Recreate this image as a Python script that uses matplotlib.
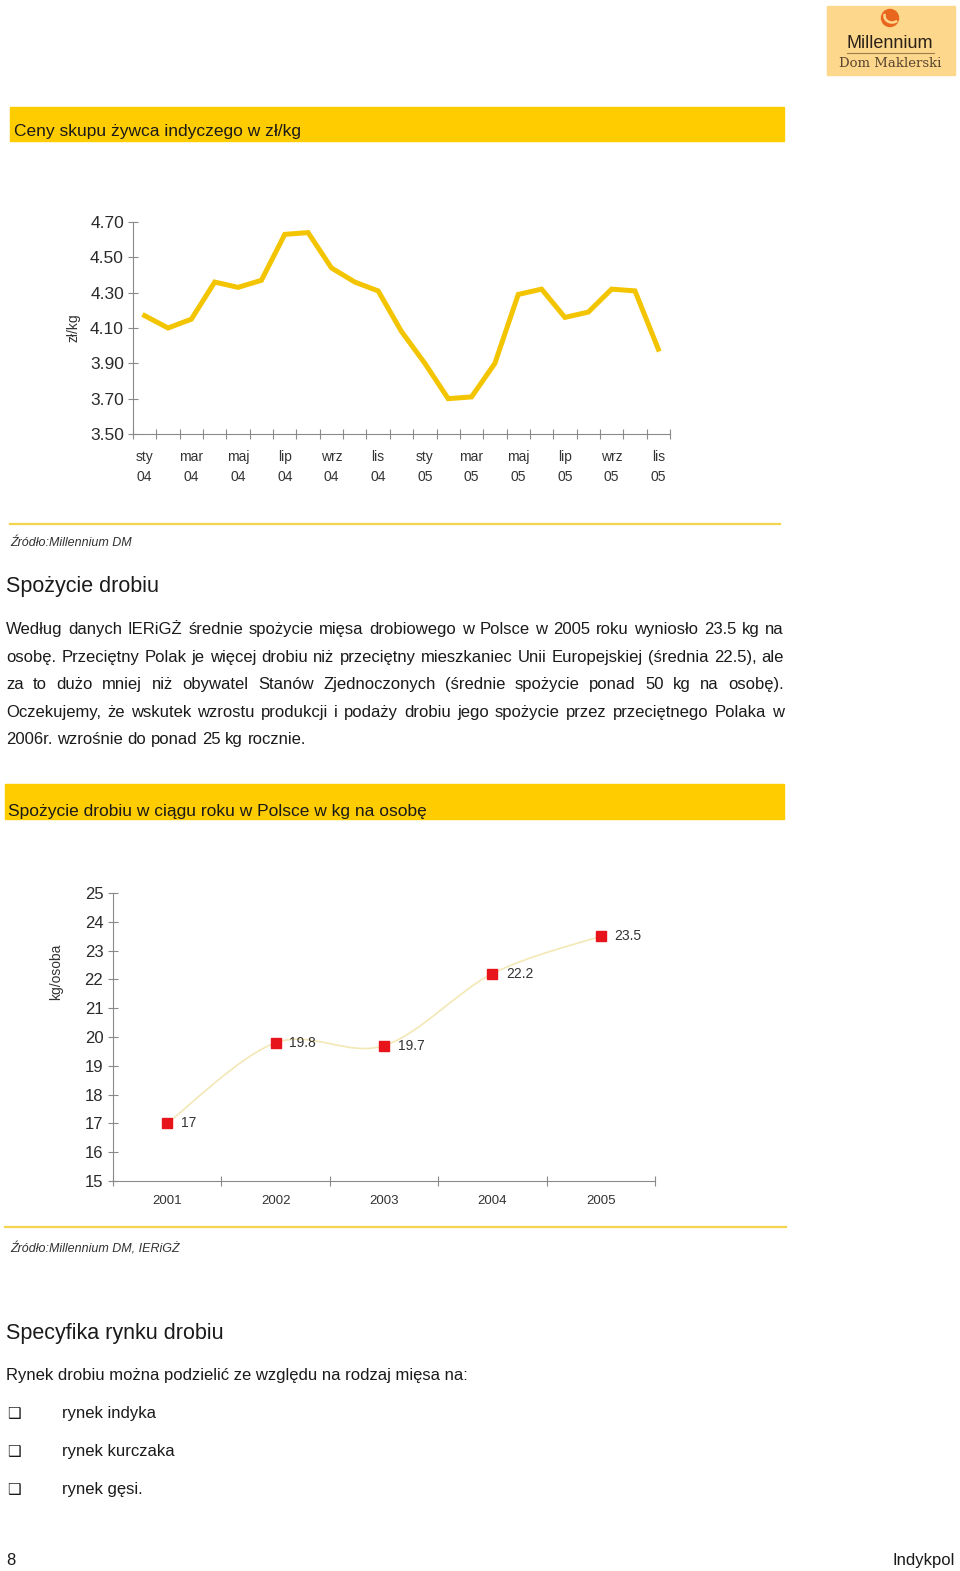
import numpy as np
import matplotlib.pyplot as plt
from matplotlib.patches import Rectangle, Ellipse, Arc
from matplotlib.lines import Line2D
from matplotlib.path import Path
from matplotlib.patches import PathPatch
from matplotlib.transforms import blended_transform_factory

plt.rcParams['font.family'] = ['Liberation Sans', 'DejaVu Sans']

# Chart 1: turkey live weight purchase prices (zl/kg), monthly Jan 2004 - Nov 2005
months = ['sty', 'lut', 'mar', 'kwi', 'maj', 'cze', 'lip', 'sie', 'wrz', 'paz', 'lis', 'gru',
          'sty', 'lut', 'mar', 'kwi', 'maj', 'cze', 'lip', 'sie', 'wrz', 'paz', 'lis']
years = ['04'] * 12 + ['05'] * 11
prices = [4.17, 4.10, 4.15, 4.36, 4.33, 4.37, 4.63, 4.64, 4.44, 4.36, 4.31, 4.08,
          3.90, 3.70, 3.71, 3.90, 4.29, 4.32, 4.16, 4.19, 4.32, 4.31, 3.98]
price_ticks = [3.50, 3.70, 3.90, 4.10, 4.30, 4.50, 4.70]

# Chart 2: poultry consumption per person (kg)
cons_years = ['2001', '2002', '2003', '2004', '2005']
consumption = [17, 19.8, 19.7, 22.2, 23.5]
cons_ticks = list(range(15, 26))

paragraph = [
    "Według danych IERiGŻ średnie spożycie mięsa drobiowego w Polsce w 2005 roku wyniosło 23.5 kg na",
    "osobę. Przeciętny Polak je więcej drobiu niż przeciętny mieszkaniec Unii Europejskiej (średnia 22.5), ale",
    "za to dużo mniej niż obywatel Stanów Zjednoczonych (średnie spożycie ponad 50 kg na osobę).",
    "Oczekujemy, że wskutek wzrostu produkcji i podaży drobiu jego spożycie przez przeciętnego Polaka w",
    "2006r. wzrośnie do ponad 25 kg rocznie.",
]
bullets = ['rynek indyka', 'rynek kurczaka', 'rynek gęsi.']

W, H = 960, 1571
YELLOW = '#FFCC00'
LINE_YELLOW = '#F3C400'
AXIS_GRAY = '#8a8a8a'
TXT = '#1a1a1a'


def fx(x):
    return x / W


def fy(y):
    return 1 - y / H


fig = plt.figure(figsize=(W / 100, H / 100), dpi=100)
fig.patch.set_facecolor('white')


def page_text(x, y, s, **kw):
    kw.setdefault('color', TXT)
    kw.setdefault('va', 'baseline')
    return fig.text(fx(x), fy(y), s, **kw)


def bar(x0, x1, y0, y1, color):
    fig.patches.append(Rectangle((fx(x0), fy(y1)), fx(x1) - fx(x0), (y1 - y0) / H,
                                 transform=fig.transFigure, color=color, zorder=0))


def hline(x0, x1, y, color, lw):
    fig.lines.append(Line2D([fx(x0), fx(x1)], [fy(y), fy(y)], transform=fig.transFigure,
                            color=color, lw=lw))


# logo
bar(827, 955, 6, 75, '#FCD78C')
fig.patches.append(Ellipse((fx(890), fy(18)), 17 / W, 17 / H, transform=fig.transFigure,
                           color='#E8661E', zorder=2))
fig.patches.append(Arc((fx(892), fy(16)), 15 / W, 13 / H, theta1=170, theta2=330,
                       transform=fig.transFigure, color='#FCD78C', lw=1.8, zorder=3))
page_text(890, 48, 'Millennium', ha='center', fontsize=13, color='#2b2118')
hline(847, 934, 53, '#9a7d4a', 0.8)
page_text(890, 67, 'Dom Maklerski', ha='center', fontsize=9.5, color='#5a4630',
          family=['DejaVu Serif'])

# section 1 header
bar(10, 784, 107, 141, YELLOW)
page_text(14, 136, 'Ceny skupu żywca indyczego w zł/kg', fontsize=12.5)

# chart 1
ax1 = fig.add_axes([fx(133), fy(434), (670 - 133) / W, (434 - 222) / H])
x = np.arange(len(prices))
ax1.plot(x, prices, color=LINE_YELLOW, lw=3.6, solid_joinstyle='miter')
ax1.set_xlim(-0.5, len(prices) - 0.5)
ax1.set_ylim(3.5, 4.7)
ax1.set_yticks(price_ticks)
ax1.set_yticklabels([f'{v:.2f}' for v in price_ticks])
ax1.set_xticks(np.arange(-0.5, len(prices)))
ax1.set_xticklabels([])
for s in ['top', 'right']:
    ax1.spines[s].set_visible(False)
for s in ['left', 'bottom']:
    ax1.spines[s].set_color(AXIS_GRAY)
    ax1.spines[s].set_linewidth(0.8)
ax1.tick_params(axis='both', direction='inout', length=7, width=0.8, color=AXIS_GRAY)
ax1.tick_params(axis='y', labelsize=12.5, labelcolor='#2a2a2a', pad=3)
ax1.set_ylabel('zł/kg', fontsize=10, color='#333333')
ax1.yaxis.set_label_coords(-0.097, 0.5)
tr = blended_transform_factory(ax1.transData, ax1.transAxes)
for i in range(0, len(prices), 2):
    ax1.text(i, -0.108, months[i], transform=tr, ha='center', va='center',
             fontsize=10, color='#333333')
    ax1.text(i, -0.205, years[i], transform=tr, ha='center', va='center',
             fontsize=10, color='#333333')

hline(10, 780, 524, '#F5D54E', 1.6)
page_text(10, 546, 'Źródło:Millennium DM', fontsize=9, style='italic', color='#333333')

# section 2 text
page_text(6, 592, 'Spożycie drobiu', fontsize=15.5)

renderer = fig.canvas.get_renderer()
base = [634, 662, 689, 717, 744]
for k, line in enumerate(paragraph):
    words = line.split()
    texts = [page_text(0, base[k], w, fontsize=12) for w in words]
    if k == len(paragraph) - 1:
        gap = 4.6
    else:
        widths = [t.get_window_extent(renderer).width for t in texts]
        gap = (784 - 6 - sum(widths)) / (len(words) - 1)
    xx = 6
    for t in texts:
        t.set_x(fx(xx))
        xx += t.get_window_extent(renderer).width + gap

# section 3 header
bar(5, 784, 784, 819, YELLOW)
page_text(8, 816, 'Spożycie drobiu w ciągu roku w Polsce w kg na osobę', fontsize=12.5)

# chart 2
ax2 = fig.add_axes([fx(113), fy(1181), (655 - 113) / W, (1181 - 893) / H])
xc = np.arange(len(consumption))
pts = np.column_stack([xc, consumption]).astype(float)
ext = np.vstack([pts[0], pts, pts[-1]])
verts = [tuple(pts[0])]
codes = [Path.MOVETO]
for i in range(len(pts) - 1):
    p0, p1, p2, p3 = ext[i], ext[i + 1], ext[i + 2], ext[i + 3]
    verts += [tuple(p1 + (p2 - p0) / 6), tuple(p2 - (p3 - p1) / 6), tuple(p2)]
    codes += [Path.CURVE4] * 3
ax2.add_patch(PathPatch(Path(verts, codes), fill=False, edgecolor='#F3E8B5', lw=1.2))
ax2.plot(xc, consumption, ls='none', marker='s', ms=6.5, color='#E8141B')
for xi, v in zip(xc, consumption):
    ax2.annotate(f'{v:g}', (xi, v), xytext=(10, 0), textcoords='offset points',
                 ha='left', va='center', fontsize=10, color='#333333')
ax2.set_xlim(-0.5, len(consumption) - 0.5)
ax2.set_ylim(15, 25)
ax2.set_yticks(cons_ticks)
ax2.tick_params(axis='y', labelsize=12, labelcolor='#2a2a2a')
ax2.set_xticks(np.arange(-0.5, len(consumption)))
ax2.set_xticklabels([])
ax2.set_xticks(xc, minor=True)
ax2.set_xticklabels(cons_years, minor=True)
ax2.tick_params(axis='x', which='minor', length=0, labelsize=9.5, labelcolor='#333333', pad=10)
for s in ['top', 'right']:
    ax2.spines[s].set_visible(False)
for s in ['left', 'bottom']:
    ax2.spines[s].set_color(AXIS_GRAY)
    ax2.spines[s].set_linewidth(0.8)
ax2.tick_params(axis='both', which='major', direction='inout', length=7, width=0.8,
                color=AXIS_GRAY)
ax2.set_ylabel('kg/osoba', fontsize=10, color='#333333')
ax2.yaxis.set_label_coords(-0.092, 0.726)

hline(5, 786, 1227, '#F5D54E', 1.6)
page_text(10, 1252, 'Źródło:Millennium DM, IERiGŻ', fontsize=9, style='italic', color='#333333')

# section 4
page_text(6, 1339, 'Specyfika rynku drobiu', fontsize=15.5)
page_text(6, 1380, 'Rynek drobiu można podzielić ze względu na rodzaj mięsa na:', fontsize=12)
for k, b in enumerate(bullets):
    yb = 1418 + 38 * k
    page_text(7, yb, '❑', fontsize=11, family=['DejaVu Sans'], weight='bold')
    page_text(62, yb, b, fontsize=12)

page_text(6, 1565, '8', fontsize=12)
page_text(955, 1565, 'Indykpol', fontsize=12, ha='right')

fig.savefig('out.png', dpi=100)
